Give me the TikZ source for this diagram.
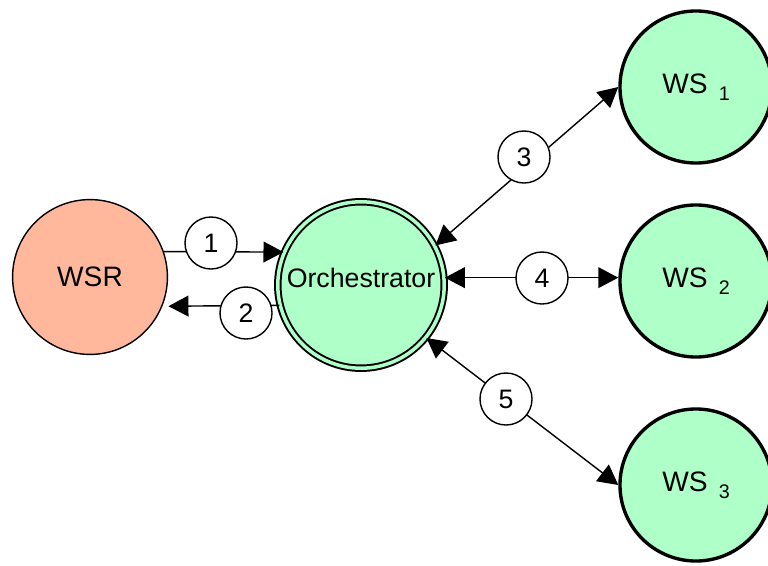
\documentclass[tikz,border=0pt]{standalone}
\usepackage{fontspec}
\setmainfont{Liberation Sans}
\usepackage{tikz}
\usetikzlibrary{arrows.meta}
\definecolor{wsgreen}{RGB}{175,255,200}
\definecolor{wsrpeach}{RGB}{255,184,156}

\begin{document}
\begin{tikzpicture}[x=0.025cm,y=-0.025cm]
				\tikzset{every node/.style={font=\fontsize{20pt}{23pt}\selectfont}}
				\tikzset{service/.style={circle,draw,line width=2.4pt,fill=wsgreen,minimum size=3.8cm,inner sep=0pt}}
				\tikzset{requester/.style={circle,draw,line width=1pt,fill=wsrpeach,minimum size=3.87cm,inner sep=0pt}}
				\tikzset{orchestrator/.style={circle,draw,line width=1.4pt,double=wsgreen,double distance=2.5pt,fill=wsgreen,minimum size=4.16cm,inner sep=0pt}}
				\tikzset{stepno/.style={circle,draw,line width=1pt,fill=white,minimum size=1.3cm,inner sep=0pt,font=\fontsize{19pt}{22pt}\selectfont}}
				\tikzset{flow/.style={line width=1pt,-{Triangle[length=0.5cm,width=0.52cm]}}}
				\tikzset{biflow/.style={line width=1pt,{Triangle[length=0.5cm,width=0.52cm]}-{Triangle[length=0.5cm,width=0.52cm]}}}
				\newcommand{\wsname}[1]{WS\hspace{8pt}\raisebox{-5pt}{\fontsize{14pt}{16pt}\selectfont #1}}
				\useasboundingbox (0,0) rectangle (768,565);
				% participants
				\node[requester] (wsr) at (90,277) {WSR};
				\node[orchestrator,label={[yshift=5pt,font=\fontsize{19pt}{22pt}\selectfont]center:Orchestrator}] (orch) at (361,285) {};
				\node[service] (ws1) at (696,87) {\wsname{1}};
				\node[service] (ws2) at (696,281) {\wsname{2}};
				\node[service] (ws3) at (696,485) {\wsname{3}};
				% messages
				\draw[flow] (wsr.19) -- (orch.157);
				\draw[flow,shorten >=0.15cm] (orch.194) -- (wsr.-22);
				\draw[biflow] (orch.28) -- (ws1.west);
				\draw[biflow] (orch.5) -- (orch.5 -| ws2.west);
				\draw[biflow] (orch.-39) -- (ws3.west);
				% step numbers
				\node[stepno] (s1) at (211,243) {1};
				\node[stepno] (s2) at (246,313) {2};
				\node[stepno] (s3) at (524,157) {3};
				\node[stepno] (s4) at (542,278) {4};
				\node[stepno] (s5) at (506,399) {5};
\end{tikzpicture}
\end{document}
